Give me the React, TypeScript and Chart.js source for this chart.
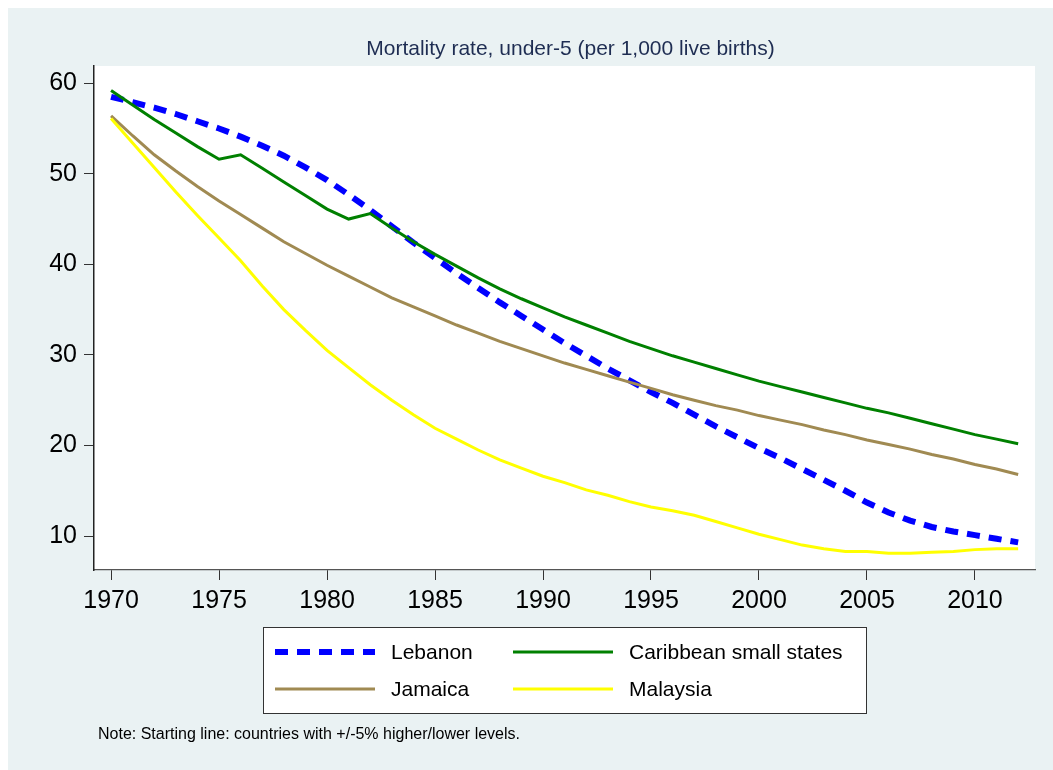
import { useEffect, useRef } from "react";
import { Chart, registerables } from "chart.js";

Chart.register(...registerables);

const years = [
  1970, 1971, 1972, 1973, 1974, 1975, 1976, 1977, 1978, 1979,
  1980, 1981, 1982, 1983, 1984, 1985, 1986, 1987, 1988, 1989,
  1990, 1991, 1992, 1993, 1994, 1995, 1996, 1997, 1998, 1999,
  2000, 2001, 2002, 2003, 2004, 2005, 2006, 2007, 2008, 2009,
  2010, 2011, 2012,
];

const lebanon = [
  58.5, 57.9, 57.3, 56.6, 55.8, 55.0, 54.1, 53.1, 52.0, 50.7,
  49.3, 47.7, 46.0, 44.2, 42.4, 40.7, 39.0, 37.4, 35.8, 34.3,
  32.8, 31.3, 29.9, 28.5, 27.2, 25.9, 24.7, 23.4, 22.1, 20.9,
  19.7, 18.6, 17.4, 16.2, 15.0, 13.7, 12.6, 11.7, 11.0, 10.5,
  10.1, 9.7, 9.3,
];

const caribbean = [
  59.2, 57.6, 56.0, 54.5, 53.0, 51.6, 52.1, 50.6, 49.1, 47.6,
  46.1, 45.0, 45.6, 44.0, 42.5, 41.1, 39.8, 38.5, 37.3, 36.2,
  35.2, 34.2, 33.3, 32.4, 31.5, 30.7, 29.9, 29.2, 28.5, 27.8,
  27.1, 26.5, 25.9, 25.3, 24.7, 24.1, 23.6, 23.0, 22.4, 21.8,
  21.2, 20.7, 20.2,
];

const jamaica = [
  56.4, 54.2, 52.1, 50.3, 48.6, 47.0, 45.5, 44.0, 42.5, 41.2,
  39.9, 38.7, 37.5, 36.3, 35.3, 34.3, 33.3, 32.4, 31.5, 30.7,
  29.9, 29.1, 28.4, 27.7, 27.0, 26.3, 25.6, 25.0, 24.4, 23.9,
  23.3, 22.8, 22.3, 21.7, 21.2, 20.6, 20.1, 19.6, 19.0, 18.5,
  17.9, 17.4, 16.8,
];

const malaysia = [
  56.1, 53.4, 50.7, 48.0, 45.4, 42.9, 40.4, 37.6, 35.0, 32.7,
  30.5, 28.6, 26.7, 25.0, 23.4, 21.9, 20.7, 19.5, 18.4, 17.5,
  16.6, 15.9, 15.1, 14.5, 13.8, 13.2, 12.8, 12.3, 11.6, 10.9,
  10.2, 9.6, 9.0, 8.6, 8.3, 8.3, 8.1, 8.1, 8.2, 8.3,
  8.5, 8.6, 8.6,
];

const xTicks = [1970, 1975, 1980, 1985, 1990, 1995, 2000, 2005, 2010];
const yTicks = [10, 20, 30, 40, 50, 60];

const seriesNames = ["Lebanon", "Caribbean small states", "Jamaica", "Malaysia"];
const seriesColors = ["#0000FF", "#008000", "#A08A52", "#FFFF00"];

const titleText = "Mortality rate, under-5 (per 1,000 live births)";
const noteText = "Note: Starting line: countries with +/-5% higher/lower levels.";

const FONT = "'Liberation Sans', Arial, Helvetica, sans-serif";

const toPoints = (vals: number[]) => vals.map((v, i) => ({ x: years[i], y: v }));

const bgPlugin = {
  id: "bgPlugin",
  beforeDraw(chart: any) {
    const { ctx, chartArea, width, height } = chart;
    ctx.save();
    ctx.fillStyle = "#EAF2F3";
    ctx.fillRect(0, 0, width, height);
    ctx.fillStyle = "#FFFFFF";
    ctx.fillRect(chartArea.left, chartArea.top, chartArea.right - chartArea.left, chartArea.bottom - chartArea.top);
    ctx.restore();
  },
};

const textPlugin = {
  id: "textPlugin",
  afterDraw(chart: any) {
    const { ctx, chartArea } = chart;
    ctx.save();
    // Title
    ctx.fillStyle = "#1E2D52";
    ctx.font = `21px ${FONT}`;
    ctx.textAlign = "center";
    ctx.textBaseline = "middle";
    ctx.fillText(titleText, (chartArea.left + chartArea.right) / 2 + 6, 41);

    // Legend box
    const bx = 255, by = 619, bw = 603, bh = 86;
    ctx.fillStyle = "#FFFFFF";
    ctx.fillRect(bx, by, bw, bh);
    ctx.strokeStyle = "#333333";
    ctx.lineWidth = 1;
    ctx.strokeRect(bx + 0.5, by + 0.5, bw, bh);

    const ds = chart.data.datasets;
    const slots = [
      { x: 267, y: 644 },
      { x: 505, y: 644 },
      { x: 267, y: 681 },
      { x: 505, y: 681 },
    ];
    ds.forEach((d: any, i: number) => {
      const s = slots[i];
      ctx.beginPath();
      ctx.strokeStyle = d.borderColor;
      ctx.lineWidth = d.borderWidth;
      ctx.setLineDash(d.borderDash || []);
      ctx.lineCap = "butt";
      ctx.moveTo(s.x, s.y);
      ctx.lineTo(s.x + 100, s.y);
      ctx.stroke();
      ctx.setLineDash([]);
      ctx.fillStyle = "#000000";
      ctx.font = `21px ${FONT}`;
      ctx.textAlign = "left";
      ctx.textBaseline = "middle";
      ctx.fillText(d.label, s.x + 116, s.y + 1);
    });

    // Note
    ctx.fillStyle = "#000000";
    ctx.font = `16px ${FONT}`;
    ctx.textAlign = "left";
    ctx.textBaseline = "middle";
    ctx.fillText(noteText, 90, 727);
    ctx.restore();
  },
};

export default function App() {
  const ref = useRef<HTMLCanvasElement | null>(null);

  useEffect(() => {
    if (!ref.current) return;
    const allSeries = [lebanon, caribbean, jamaica, malaysia];
    const chart = new Chart(ref.current, {
      type: "line",
      data: {
        datasets: allSeries.map((vals, i) => ({
          label: seriesNames[i],
          data: toPoints(vals),
          borderColor: seriesColors[i],
          backgroundColor: seriesColors[i],
          borderWidth: i === 0 ? 6 : 3,
          borderDash: i === 0 ? [13, 9] : [],
          borderCapStyle: "butt",
          pointRadius: 0,
          tension: 0,
          fill: false,
          order: 4 - i,
        })),
      },
      options: {
        animation: false,
        responsive: false,
        maintainAspectRatio: false,
        layout: { padding: { left: 0, right: 18, top: 58, bottom: 150 } },
        plugins: {
          legend: { display: false },
          tooltip: { enabled: false },
          title: { display: false },
        },
        scales: {
          x: {
            type: "linear",
            min: 1969.21,
            max: 2012.78,
            afterBuildTicks: (s: any) => {
              s.ticks = xTicks.map((v) => ({ value: v }));
            },
            afterFit: (s: any) => {
              s.height = 50;
            },
            ticks: {
              callback: (v: any) => String(v),
              font: { family: FONT, size: 25 },
              color: "#000000",
              padding: 6,
              maxRotation: 0,
              autoSkip: false,
            },
            grid: { drawOnChartArea: false, drawTicks: true, tickLength: 10, color: "#333333", lineWidth: 1 },
            border: { display: true, color: "#555555", width: 1.2 },
          },
          y: {
            type: "linear",
            min: 6.25,
            max: 61.9,
            afterBuildTicks: (s: any) => {
              s.ticks = yTicks.map((v) => ({ value: v }));
            },
            afterFit: (s: any) => {
              s.width = 86;
            },
            ticks: {
              callback: (v: any) => String(v),
              font: { family: FONT, size: 25 },
              color: "#000000",
              padding: 7,
            },
            grid: { drawOnChartArea: false, drawTicks: true, tickLength: 10, color: "#333333", lineWidth: 1 },
            border: { display: true, color: "#222222", width: 1.5 },
          },
        },
      },
      plugins: [bgPlugin, textPlugin],
    } as any);
    return () => chart.destroy();
  }, []);

  return (
    <div style={{ position: "fixed", left: 8, top: 8, width: 1045, height: 762 }}>
      <canvas ref={ref} width={1045} height={762} style={{ display: "block", width: 1045, height: 762 }} />
    </div>
  );
}
